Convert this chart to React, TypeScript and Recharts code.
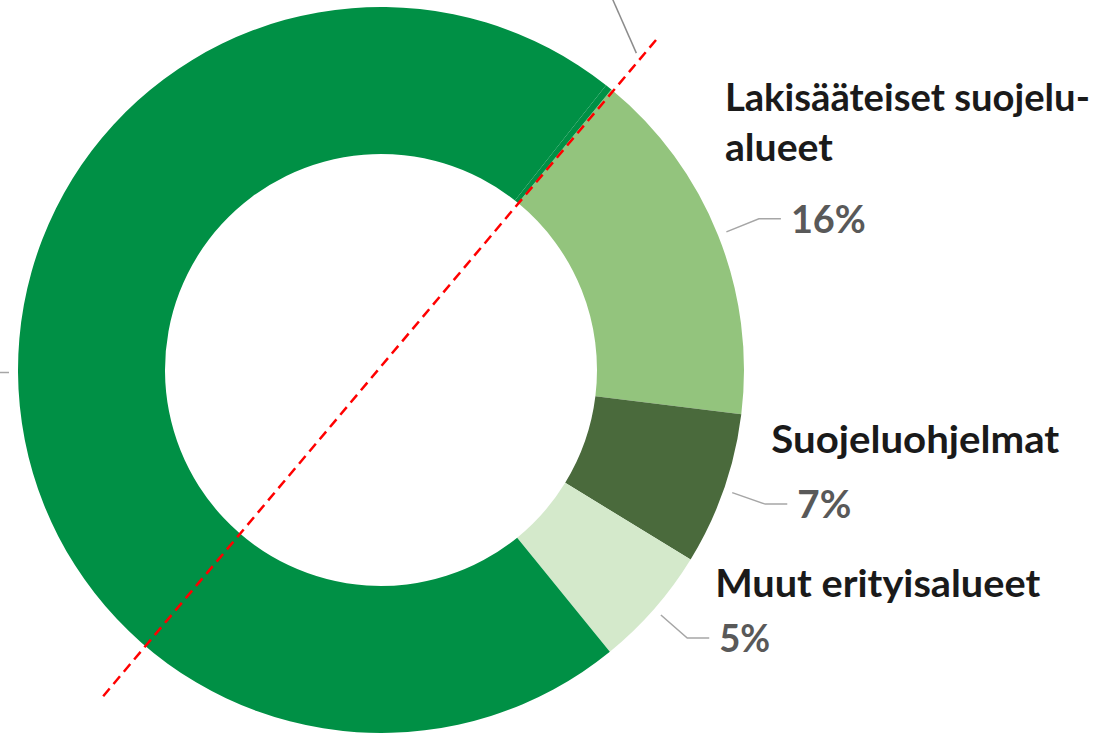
import React from 'react';
import { PieChart, Pie, Cell } from 'recharts';

// ---- data ----
const categories = ['Lakisääteiset suojelualueet', 'Suojeluohjelmat', 'Muut erityisalueet', 'Talousmetsät', 'Muu'];
const titleLines = [['Lakisääteiset suojelu-', 'alueet'], ['Suojeluohjelmat'], ['Muut erityisalueet'], [], []];
const values = [16.0, 6.8, 5.4, 71.5, 0.3];
const colors = ['#93C47D', '#4A6A3C', '#D4E9CB', '#009045', '#009045'];

// ---- layout (not data) ----
const W = 1119;
const H = 733;
const CX = 381;
const CY = 370;
const INNER = 216;
const OUTER = 363;
const START = 50.6;
// title offset relative to percent text start / baseline
const titleOffsets = [
  { dx: -66, dy: -122 },
  { dx: -26, dy: -65 },
  { dx: -4, dy: -55 },
  { dx: 0, dy: 0 },
  { dx: 0, dy: 0 },
];
// rendered widths of the title lines and percent texts (Calibri-like metrics)
const titleWidths = [[365, 108], [288], [325], [], []];
const pctWidths = [75, 54, 51, 0, 0];
const FONT = 'Lato, "Open Sans", sans-serif';
const RAD = Math.PI / 180;

const data = categories.map((c, i) => ({ name: c, value: values[i] }));

const renderLabel = (props: any) => {
  const { cx, cy, midAngle, outerRadius, index, value } = props;
  const cos = Math.cos(-midAngle * RAD);
  const sin = Math.sin(-midAngle * RAD);
  const r1 = outerRadius + 9;
  const r2 = outerRadius + 44;
  const sx = cx + r1 * cos;
  const sy = cy + r1 * sin;
  const ex = cx + r2 * cos;
  const ey = cy + r2 * sin;
  if (index === 4) {
    // tiny slice: leader line runs up-left to its label outside the picture
    return (
      <g key={`lbl-${index}`}>
        <polyline points={`${ex},${ey} ${ex - 30},${ey - 68}`} fill="none" stroke="#8C8C8C" strokeWidth={1.5} />
      </g>
    );
  }
  const right = cos >= 0;
  const hx = ex + (right ? 22 : -60);
  const tx = hx + (right ? 10 : -10);
  const baseline = ey + 14;
  const pct = `${Math.round(value)}%`;
  const off = titleOffsets[index];
  return (
    <g key={`lbl-${index}`}>
      <polyline points={`${sx},${sy} ${ex},${ey} ${hx},${ey}`} fill="none" stroke="#A6A6A6" strokeWidth={1.5} />
      {right && (
        <text
          x={tx}
          y={baseline}
          fill="#595959"
          fontFamily={FONT}
          fontWeight={700}
          fontSize={38}
          textLength={pctWidths[index]}
          lengthAdjust="spacingAndGlyphs"
        >
          {pct}
        </text>
      )}
      {right &&
        titleLines[index].map((t, j) => (
          <text
            key={j}
            x={tx + off.dx}
            y={baseline + off.dy + j * 50}
            fill="#1A1A1A"
            fontFamily={FONT}
            fontWeight={700}
            fontSize={38}
            textLength={titleWidths[index][j]}
            lengthAdjust="spacingAndGlyphs"
          >
            {t}
          </text>
        ))}
    </g>
  );
};

export default function App() {
  const dx1 = 656 - CX;
  const dy1 = 40 - CY;
  const dx2 = 100 - CX;
  const dy2 = 700 - CY;
  return (
    <div style={{ position: 'absolute', left: 0, top: 0, width: W, height: H, background: '#fff', overflow: 'hidden' }}>
      <PieChart width={W} height={H} margin={{ top: 0, right: 0, bottom: 0, left: 0 }}>
        <Pie
          data={data}
          dataKey="value"
          nameKey="name"
          cx={CX}
          cy={CY}
          innerRadius={INNER}
          outerRadius={OUTER}
          startAngle={START}
          endAngle={START - 360}
          stroke="none"
          label={renderLabel}
          labelLine={false}
          isAnimationActive={false}
        >
          {data.map((d, i) => (
            <Cell key={d.name} fill={colors[i]} />
          ))}
        </Pie>
      </PieChart>
      <svg width={W} height={H} style={{ position: 'absolute', left: 0, top: 0, pointerEvents: 'none' }}>
        <line
          x1={CX + dx1}
          y1={CY + dy1}
          x2={CX + dx2}
          y2={CY + dy2}
          stroke="#FF0000"
          strokeWidth={2.5}
          strokeDasharray="10 6"
        />
      </svg>
    </div>
  );
}
